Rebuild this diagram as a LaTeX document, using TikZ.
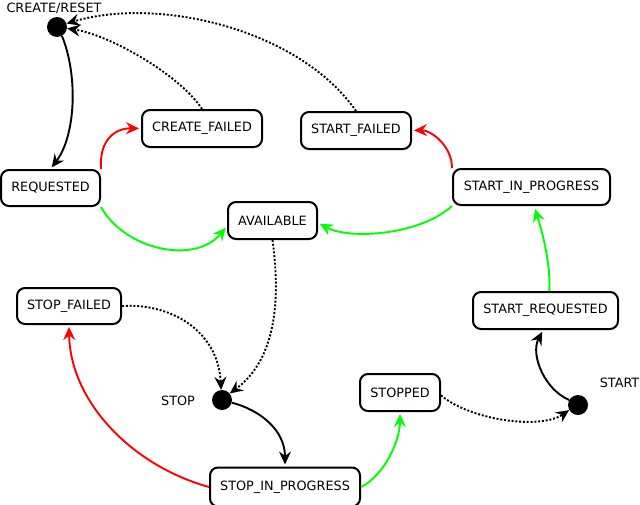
\documentclass[tikz,border=0pt]{standalone}
\usepackage{fontspec}
\setmainfont{DejaVu Sans}
\usetikzlibrary{arrows.meta}
\definecolor{pred}{RGB}{255,0,0}
\definecolor{pgreen}{RGB}{0,255,0}
\tikzset{
  st/.style={draw, line width=2pt, rounded corners=8pt, fill=white, inner sep=0pt,
             font=\fontsize{12.8}{14}\selectfont},
  blob/.style={circle, fill=black, minimum size=20pt, inner sep=0pt},
  lbl/.style={inner sep=0pt, font=\fontsize{12.8}{14}\selectfont},
  arr/.style={line width=1.9pt, -{Stealth[length=13pt,width=12pt,inset=4.5pt]}},
  dotl/.style={arr, dash pattern=on 2pt off 1.8pt},
  tobox/.style={shorten >=2pt},
}
\begin{document}
\begin{tikzpicture}[x=1pt,y=-1pt]
\useasboundingbox (0,0) rectangle (640,504);
% nodes
\node[blob] (cr) at (57,27) {};
\node[lbl] (crl) at (54,8) {CREATE/RESET};
\node[st, minimum width=99pt, minimum height=36pt] (req) at (50.5,188) {REQUESTED};
\node[st, minimum width=120pt, minimum height=37pt] (cf) at (202,128.5) {CREATE\_FAILED};
\node[st, minimum width=89pt, minimum height=37pt] (av) at (272.5,220.5) {AVAILABLE};
\node[st, minimum width=110pt, minimum height=37pt] (sf) at (356,130.5) {START\_FAILED};
\node[st, minimum width=157pt, minimum height=36pt] (sip) at (531.5,187) {START\_IN\_PROGRESS};
\node[st, minimum width=104pt, minimum height=36pt] (sfail) at (69,306) {STOP\_FAILED};
\node[blob] (stopd) at (222,400) {};
\node[lbl] (stopl) at (178,401) {STOP};
\node[st, minimum width=150pt, minimum height=39pt] (spip) at (285,487) {STOP\_IN\_PROGRESS};
\node[st, minimum width=80pt, minimum height=37pt] (stp) at (400,392.5) {STOPPED};
\node[st, minimum width=145pt, minimum height=37pt] (sr) at (545.5,310.5) {START\_REQUESTED};
\node[blob] (sd) at (578,405) {};
\node[lbl, anchor=east] (sdl) at (639.5,383) {START};
% edges
\draw[arr, tobox] (cr.-61) .. controls (78,75) and (76,135) .. (req.north);
\draw[arr, tobox, pred] (req.north east) .. controls (99,140) and (115,128) .. (cf.west);
\draw[arr, tobox, pgreen] (req.south east) .. controls (125,250) and (195,265) .. (av.187);
\draw[dotl] (cf.north) .. controls (180,75) and (110,35) .. (cr.-8);
\draw[dotl] (sf.north) .. controls (300,30) and (160,-4) .. (cr.20);
\draw[arr, tobox, pred] (sip.north west) .. controls (452,145) and (430,130) .. (sf.east);
\draw[arr, tobox, pgreen] (sip.south west) .. controls (420,235) and (350,240) .. (av.-3);
\draw[arr, shorten >=3pt, pgreen] (sr.79) .. controls (551,260) and (540,225) .. (sip.-82);
\draw[arr, tobox] (sd.150) .. controls (545,390) and (530,355) .. (sr.-97);
\draw[dotl] (stp.-4) .. controls (470,420) and (540,430) .. (sd.210);
\draw[arr, tobox, pgreen] (spip.east) .. controls (385,475) and (400,440) .. (stp.south);
\draw[arr, tobox, pred] (spip.west) .. controls (130,465) and (70,400) .. (sfail.south);
\draw[dotl] (sfail.east) .. controls (170,303) and (218,330) .. (stopd.95);
\draw[dotl] (av.south) .. controls (282,310) and (272,362) .. (stopd.40);
\draw[arr, tobox] (stopd.-15) .. controls (260,410) and (285,430) .. (spip.north);
\end{tikzpicture}
\end{document}
